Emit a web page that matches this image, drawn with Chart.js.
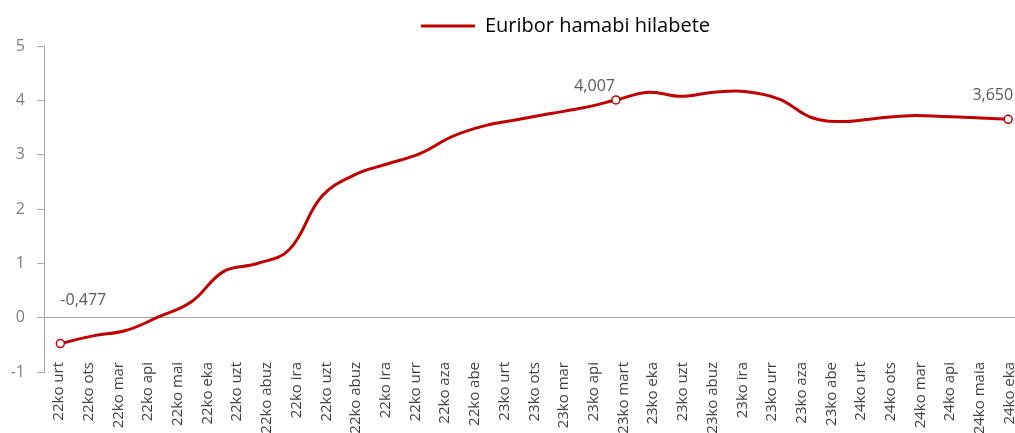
<!DOCTYPE html>
<html>
<head>
<meta charset="utf-8">
<script src="https://cdn.jsdelivr.net/npm/chart.js@4"></script>
<style>
  html, body { margin: 0; padding: 0; background: #fff; overflow: hidden; }
  #wrap { width: 1030px; height: 433px; }
</style>
</head>
<body>
<div id="wrap"><canvas id="euriborChart"></canvas></div>
<script>
// ardatzeko etiketak (jatorrizko grafikoan bezala)
const xLabels = ['22ko urt', '22ko ots', '22ko mar', '22ko api', '22ko mai', '22ko eka', '22ko uzt', '22ko abuz', '22ko ira',
  '22ko uzt', '22ko abuz', '22ko ira', '22ko urr', '22ko aza', '22ko abe', '23ko urt', '23ko ots', '23ko mar', '23ko api',
  '23ko mart', '23ko eka', '23ko uzt', '23ko abuz', '23ko ira', '23ko urr', '23ko aza', '23ko abe', '24ko urt', '24ko ots',
  '24ko mar', '24ko api', '24ko maia', '24ko eka'];

// hileko balioak (2022 urt - 2024 eka)
const euribor = [-0.477, -0.335, -0.237, 0.013, 0.287, 0.852, 0.992, 1.249, 2.233, 2.629, 2.828, 3.018,
  3.337, 3.534, 3.647, 3.757, 3.862, 4.007, 4.149, 4.073, 4.149, 4.160, 4.022, 3.679,
  3.609, 3.671, 3.718, 3.703, 3.680, 3.650];

const yTicks = [-1, 0, 1, 2, 3, 4, 5];
const markedPoints = [0, 17, 29];

const RED = '#C00000';
const AXIS = '#a6a6a6';
const FONT = "'Open Sans', 'Noto Sans', sans-serif";

// etiketen kokapena (puntuarekiko)
const labelStyle = {
  0: { align: 'left', dx: 0, dy: -43 },
  17: { align: 'right', dx: -1, dy: -14 },
  29: { align: 'right', dx: 5, dy: -24 }
};

const valueLabels = {
  id: 'valueLabels',
  afterDatasetsDraw(chart) {
    const c = chart.ctx;
    const meta = chart.getDatasetMeta(0);
    c.save();
    c.font = '16px ' + FONT;
    c.fillStyle = '#595959';
    c.textBaseline = 'middle';
    markedPoints.forEach(i => {
      const p = meta.data[i];
      const s = labelStyle[i];
      c.textAlign = s.align;
      c.fillText(euribor[i].toFixed(3).replace('.', ','), p.x + s.dx, p.y + s.dy);
    });
    c.restore();
  }
};

// legenda pixka bat eskuinera, x etiketak pixka bat gora
const layoutTweaks = {
  id: 'layoutTweaks',
  afterLayout(chart) {
    chart.legend.left += 53;
    chart.legend.right += 53;
    chart.scales.xcat.top -= 10;
  }
};

document.addEventListener('DOMContentLoaded', function () {
  const ctx = document.getElementById('euriborChart');
  new Chart(ctx, {
    type: 'line',
    data: {
      datasets: [{
        label: 'Euribor hamabi hilabete',
        data: euribor.map((v, i) => ({ x: i, y: v })),
        borderColor: RED,
        backgroundColor: RED,
        borderWidth: 3,
        tension: 0.4,
        clip: false,
        pointRadius: c => markedPoints.includes(c.dataIndex) ? 4 : 0,
        pointBackgroundColor: '#ffffff',
        pointBorderColor: RED,
        pointBorderWidth: 1.5,
        xAxisID: 'x',
        yAxisID: 'y'
      }]
    },
    plugins: [valueLabels, layoutTweaks],
    options: {
      responsive: true,
      maintainAspectRatio: false,
      animation: false,
      layout: { padding: { top: 10, right: 5, left: 0, bottom: 0 } },
      scales: {
        x: {
          type: 'linear',
          display: false,
          min: -0.5,
          max: euribor.length - 0.5
        },
        xcat: {
          type: 'category',
          position: 'bottom',
          labels: xLabels,
          offset: true,
          grid: { display: false, drawTicks: false },
          border: { display: false },
          ticks: {
            autoSkip: false,
            minRotation: 90,
            maxRotation: 90,
            padding: 0,
            color: '#404040',
            font: { family: FONT, size: 15 }
          },
          afterFit(scale) { scale.height = 61; }
        },
        y: {
          min: -1,
          max: 5,
          afterBuildTicks(scale) { scale.ticks = yTicks.map(v => ({ value: v })); },
          grid: {
            color: c => c.tick && c.tick.value === 0 ? AXIS : 'rgba(0,0,0,0)',
            tickColor: AXIS,
            tickLength: 7
          },
          border: { display: true, color: AXIS },
          ticks: {
            color: '#7f7f7f',
            padding: 12,
            font: { family: FONT, size: 16 }
          },
          afterFit(scale) { scale.width = 44; }
        }
      },
      plugins: {
        legend: {
          display: true,
          position: 'top',
          labels: {
            boxWidth: 54,
            boxHeight: 3,
            color: '#262626',
            padding: 6,
            font: { family: FONT, size: 20 },
            generateLabels(chart) {
              return [{
                text: chart.data.datasets[0].label,
                fillStyle: RED,
                strokeStyle: RED,
                lineWidth: 0,
                datasetIndex: 0
              }];
            }
          }
        },
        tooltip: { enabled: false }
      }
    }
  });
});
</script>
</body>
</html>
